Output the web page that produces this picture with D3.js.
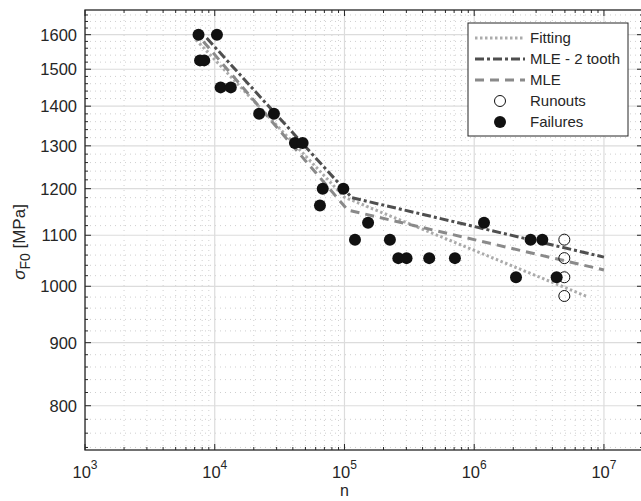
<!DOCTYPE html>
<html>
<head>
<meta charset="utf-8">
<script src="https://cdn.jsdelivr.net/npm/d3@7"></script>
<style>
  body { margin: 0; background: #fff; }
  text { font-family: "Liberation Sans", Arial, Helvetica, sans-serif; fill: #262626; }
</style>
</head>
<body>
<div id="chart"></div>
<script>
// failures (filled)
let failN = [7500, 10400, 7700, 8300, 11100, 13300, 22000, 28600, 41500, 47600, 68000, 98000, 64700,
    152000, 120500, 224000, 260000, 301000, 450000, 710000, 1190000, 2720000, 3350000, 2100000, 4320000];
let failS = [1600, 1600, 1525, 1525, 1450, 1450, 1380, 1380, 1307, 1307, 1200, 1200, 1163,
    1126, 1091, 1091, 1054, 1054, 1054, 1054, 1126, 1091, 1091, 1017, 1017];
// runouts (open)
let runN = [4950000, 4950000, 4950000, 4950000];
let runS = [1091, 1054, 1017, 982];
// fitted curves
let fitN = [7170, 100000, 7400000];
let fitS = [1585, 1181, 981];
let mle2N = [8670, 114000, 10000000];
let mle2S = [1590, 1180, 1056];
let mleN = [8170, 106000, 10000000];
let mleS = [1580, 1153, 1031];

let xTicks = [1e3, 1e4, 1e5, 1e6, 1e7];
let yTicks = [800, 900, 1000, 1100, 1200, 1300, 1400, 1500, 1600];

let width = 641, height = 501;
let margin = { top: 10, right: -2, bottom: 51, left: 85 };
let w = width - margin.left - margin.right;
let h = height - margin.top - margin.bottom;

let x = d3.scaleLog().domain([1e3, 2e7]).range([0, w]);
let y = d3.scaleLog().domain([736.5, 1675.5]).range([h, 0]);

let svg = d3.select('#chart').append('svg')
    .attr('width', width).attr('height', height);

let g = svg.append('g')
    .attr('transform', 'translate(' + margin.left + ',' + margin.top + ')');

g.append('defs').append('clipPath').attr('id', 'clip')
    .append('rect').attr('width', w).attr('height', h);

// minor ticks
let xMinor = [];
for (let e = 3; e < 8; e++) for (let k = 2; k < 10; k++) {
    let v = k * Math.pow(10, e);
    if (v < 2e7) xMinor.push(v);
}
let yMinor = d3.range(740, 1680, 20).filter(v => v % 100 !== 0);

let grid = g.append('g').attr('clip-path', 'url(#clip)');

grid.selectAll('.xminor').data(xMinor).enter().append('line')
    .attr('x1', d => x(d)).attr('x2', d => x(d))
    .attr('y1', 0).attr('y2', h)
    .attr('stroke', '#cfcfcf').attr('stroke-dasharray', '1,4');
grid.selectAll('.yminor').data(yMinor).enter().append('line')
    .attr('y1', d => y(d)).attr('y2', d => y(d))
    .attr('x1', 0).attr('x2', w)
    .attr('stroke', '#cfcfcf').attr('stroke-dasharray', '1,4');
grid.selectAll('.xmajor').data(xTicks).enter().append('line')
    .attr('x1', d => x(d)).attr('x2', d => x(d))
    .attr('y1', 0).attr('y2', h)
    .attr('stroke', '#dcdcdc').attr('stroke-width', 1.2);
grid.selectAll('.ymajor').data(yTicks).enter().append('line')
    .attr('y1', d => y(d)).attr('y2', d => y(d))
    .attr('x1', 0).attr('x2', w)
    .attr('stroke', '#dcdcdc').attr('stroke-width', 1.2);

// curves
let line = d3.line().x(d => x(d[0])).y(d => y(d[1]));
let curves = [
    { n: fitN, s: fitS, color: '#ababab', dash: '2.5,2.5' },
    { n: mle2N, s: mle2S, color: '#4f4f4f', dash: '9,3,3,3' },
    { n: mleN, s: mleS, color: '#8a8a8a', dash: '9,6' }
];
grid.selectAll('.curve').data(curves).enter().append('path')
    .attr('class', 'curve')
    .attr('d', c => line(d3.zip(c.n, c.s)))
    .attr('fill', 'none')
    .attr('stroke', c => c.color)
    .attr('stroke-width', 3)
    .attr('stroke-dasharray', c => c.dash);

// points
grid.selectAll('.fail').data(d3.zip(failN, failS)).enter().append('circle')
    .attr('cx', d => x(d[0])).attr('cy', d => y(d[1]))
    .attr('r', 6).attr('fill', '#111');
grid.selectAll('.run').data(d3.zip(runN, runS)).enter().append('circle')
    .attr('cx', d => x(d[0])).attr('cy', d => y(d[1]))
    .attr('r', 5.5).attr('fill', 'none').attr('stroke', '#111').attr('stroke-width', 1);

// box + ticks
let axisColor = '#262626';
g.append('rect').attr('width', w).attr('height', h)
    .attr('fill', 'none').attr('stroke', axisColor).attr('stroke-width', 1.3);

let tickG = g.append('g').attr('stroke', axisColor).attr('stroke-width', 1);
[[xTicks, 6], [xMinor, 3]].forEach(([vals, len]) => {
    tickG.selectAll(null).data(vals).enter().append('line')
        .attr('x1', d => x(d)).attr('x2', d => x(d)).attr('y1', h).attr('y2', h - len);
    tickG.selectAll(null).data(vals).enter().append('line')
        .attr('x1', d => x(d)).attr('x2', d => x(d)).attr('y1', 0).attr('y2', len);
});
[[yTicks, 6], [yMinor, 3]].forEach(([vals, len]) => {
    tickG.selectAll(null).data(vals).enter().append('line')
        .attr('y1', d => y(d)).attr('y2', d => y(d)).attr('x1', 0).attr('x2', len);
    tickG.selectAll(null).data(vals).enter().append('line')
        .attr('y1', d => y(d)).attr('y2', d => y(d)).attr('x1', w).attr('x2', w - len);
});

// tick labels
g.selectAll('.ylab').data(yTicks).enter().append('text')
    .attr('x', -8).attr('y', d => y(d)).attr('dy', '0.36em')
    .attr('text-anchor', 'end').style('font-size', '16.5px')
    .text(d => d);

let xl = g.selectAll('.xlab').data(xTicks).enter().append('text')
    .attr('x', d => x(d)).attr('y', h + 28)
    .attr('text-anchor', 'middle').style('font-size', '16.5px');
xl.append('tspan').text('10');
xl.append('tspan').attr('dy', -9).style('font-size', '12px')
    .text(d => Math.round(Math.log10(d)));

// axis titles
g.append('text').attr('x', x(1e5)).attr('y', h + 46)
    .attr('text-anchor', 'middle').style('font-size', '16px').text('n');

let yt = g.append('text')
    .attr('transform', 'translate(-60,' + (h / 2 + 12) + ') rotate(-90)')
    .attr('text-anchor', 'middle').style('font-size', '17px');
yt.append('tspan').style('font-style', 'italic').text('σ');
yt.append('tspan').attr('dy', 5).style('font-size', '14px').text('F0');
yt.append('tspan').attr('dy', -5).text(' [MPa]');

// legend
let lg = svg.append('g').attr('transform', 'translate(468,23)');
lg.append('rect').attr('width', 160).attr('height', 113)
    .attr('fill', '#fff').attr('stroke', axisColor).attr('stroke-width', 1);
let labels = ['Fitting', 'MLE - 2 tooth', 'MLE', 'Runouts', 'Failures'];
let rowY = d => 15 + d * 21;
curves.forEach((c, i) => {
    lg.append('line').attr('x1', 7).attr('x2', 57).attr('y1', rowY(i)).attr('y2', rowY(i))
        .attr('stroke', c.color).attr('stroke-width', 3).attr('stroke-dasharray', c.dash);
});
lg.append('circle').attr('cx', 32).attr('cy', rowY(3)).attr('r', 5.5)
    .attr('fill', 'none').attr('stroke', '#111');
lg.append('circle').attr('cx', 32).attr('cy', rowY(4)).attr('r', 6).attr('fill', '#111');
lg.selectAll('.lt').data(labels).enter().append('text')
    .attr('x', 62).attr('y', (d, i) => rowY(i)).attr('dy', '0.36em')
    .style('font-size', '15px').text(d => d);
</script>
</body>
</html>
